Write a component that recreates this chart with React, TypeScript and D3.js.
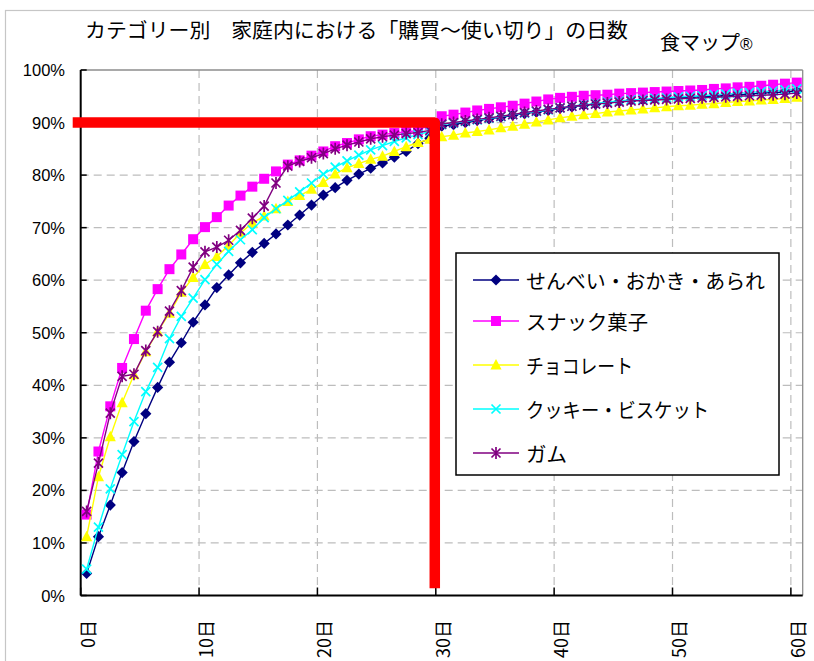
import React from "react";
import * as d3 from "d3";

// ---- data ----
const days: number[] = d3.range(0, 61);
const xTickDays = [0, 10, 20, 30, 40, 50, 60];
const xTickLabels = ["0日", "10日", "20日", "30日", "40日", "50日", "60日"];
const yTicks = [0, 10, 20, 30, 40, 50, 60, 70, 80, 90, 100];
const seriesNames = ["せんべい・おかき・あられ", "スナック菓子", "チョコレート", "クッキー・ビスケット", "ガム"];

const senbei = [
  4.2, 11.2, 17.2, 23.4, 29.3, 34.6, 39.6, 44.4, 48.1, 52.0,
  55.3, 58.6, 61.0, 63.3, 65.3, 67.0, 68.8, 70.5, 72.4, 74.3,
  76.2, 77.6, 79.0, 80.2, 81.3, 82.3, 83.4, 84.5, 86.0, 87.0,
  89.3, 89.6, 90.0, 90.4, 90.7, 91.0, 91.4, 91.7, 92.0, 92.3,
  92.7, 93.0, 93.3, 93.5, 93.8, 94.0, 94.2, 94.3, 94.5, 94.6,
  94.7, 94.8, 94.9, 95.0, 95.1, 95.3, 95.4, 95.6, 95.7, 95.8, 96.0,
];
const snack = [
  15.4, 27.4, 36.0, 43.3, 48.8, 54.2, 58.3, 62.1, 64.9, 67.8,
  70.1, 72.0, 74.2, 76.1, 77.8, 79.3, 80.7, 82.0, 82.8, 83.7,
  84.5, 85.5, 86.1, 86.8, 87.4, 87.7, 88.0, 88.2, 88.5, 89.6,
  91.2, 91.5, 91.9, 92.3, 92.6, 92.9, 93.2, 93.6, 94.0, 94.4,
  94.7, 94.9, 95.1, 95.2, 95.3, 95.5, 95.6, 95.7, 95.8, 95.9,
  96.0, 96.1, 96.2, 96.4, 96.5, 96.7, 96.8, 97.0, 97.2, 97.4, 97.6,
];
const choco = [
  11.2, 22.6, 30.2, 36.7, 42.0, 46.4, 50.2, 53.7, 57.7, 60.5,
  63.0, 64.5, 66.6, 69.0, 70.9, 72.2, 73.6, 75.0, 76.1, 77.3,
  78.6, 80.2, 81.4, 82.2, 83.0, 83.6, 84.5, 85.4, 86.2, 86.8,
  87.3, 87.6, 88.0, 88.3, 88.6, 89.0, 89.3, 89.7, 90.1, 90.5,
  90.9, 91.2, 91.5, 91.7, 92.0, 92.2, 92.4, 92.6, 92.8, 93.0,
  93.2, 93.3, 93.5, 93.6, 93.8, 94.0, 94.1, 94.3, 94.4, 94.6, 94.8,
];
const cookie = [
  5.0, 13.0, 20.3, 26.8, 33.1, 38.8, 43.4, 48.9, 53.1, 56.6,
  60.1, 63.0, 65.5, 67.7, 69.6, 71.9, 73.6, 75.2, 76.8, 78.5,
  80.2, 81.5, 82.7, 83.8, 84.8, 85.6, 86.4, 87.1, 87.7, 88.3,
  89.6, 89.9, 90.2, 90.5, 90.8, 91.1, 91.5, 91.8, 92.1, 92.4,
  92.8, 93.1, 93.4, 93.6, 93.9, 94.1, 94.3, 94.4, 94.6, 94.7,
  94.9, 95.0, 95.1, 95.3, 95.4, 95.6, 95.7, 95.9, 96.0, 96.2, 96.4,
];
const gum = [
  16.0, 25.2, 34.7, 41.7, 42.1, 46.6, 50.2, 54.1, 58.0, 62.5,
  65.4, 66.3, 67.6, 69.5, 71.8, 74.1, 78.5, 81.7, 82.6, 83.3,
  84.1, 85.0, 85.7, 86.3, 86.9, 87.3, 87.6, 87.9, 88.1, 88.5,
  89.7, 90.0, 90.3, 90.6, 90.9, 91.2, 91.5, 91.9, 92.2, 92.5,
  92.8, 93.1, 93.3, 93.5, 93.7, 93.9, 94.1, 94.2, 94.3, 94.4,
  94.5, 94.6, 94.7, 94.8, 94.9, 95.0, 95.1, 95.2, 95.3, 95.4, 95.6,
];
const refLevel = 90;
const refDay = 30;

const seriesValues = [senbei, snack, choco, cookie, gum];
const seriesColors = ["#000080", "#FF00FF", "#FFFF00", "#00FFFF", "#800080"];
const seriesMarkers = ["diamond", "square", "triangle", "x", "star"];
const legendWidths = [239, 122, 107, 183, 41];

// ---- layout ----
const W = 814;
const H = 661;
const plot = { left: 80.7, right: 802.7, top: 70, bottom: 595.5 };
const JP = "'Noto Sans CJK JP', 'Noto Sans', sans-serif";
const LAT = "'Liberation Sans', Arial, sans-serif";

function Marker({ kind, color, x, y }: { kind: string; color: string; x: number; y: number }) {
  const t = `translate(${x},${y})`;
  if (kind === "diamond") return <path transform={t} d="M0,-5.6L5.6,0L0,5.6L-5.6,0Z" fill={color} />;
  if (kind === "square") return <rect transform={t} x={-5} y={-5} width={10} height={10} fill={color} />;
  if (kind === "triangle") return <path transform={t} d="M0,-6L5.6,4.5L-5.6,4.5Z" fill={color} />;
  if (kind === "x")
    return <path transform={t} d="M-4.5,-4.5L4.5,4.5M-4.5,4.5L4.5,-4.5" stroke={color} strokeWidth={1.7} fill="none" />;
  return (
    <path transform={t} d="M-4.5,-4.5L4.5,4.5M-4.5,4.5L4.5,-4.5M0,-6L0,6" stroke={color} strokeWidth={1.7} fill="none" />
  );
}

export default function App() {
  const x = d3.scaleBand<number>().domain(days).range([plot.left, plot.right]).padding(0);
  const bw = x.bandwidth();
  const cx = (d: number) => (x(d) as number) + bw / 2;
  const y = d3.scaleLinear().domain([0, 100]).range([plot.bottom, plot.top]);
  const line = d3
    .line<number>()
    .x((_, i) => cx(days[i]))
    .y((v) => y(v));

  const tickX = (d: number) => x(d) as number;

  const refX = x(refDay) as number;
  const refY = y(refLevel);

  const legend = { x: 456, y: 253, w: 323, h: 222 };
  const legendRows = [280, 321, 365, 409, 453];

  return (
    <svg width={W} height={H} style={{ position: "absolute", left: 0, top: 0, background: "#fff" }}>
      <rect x={0} y={0} width={W} height={H} fill="#fff" />
      <rect x={5.5} y={10.5} width={900} height={800} fill="none" stroke="#c6c6c6" strokeWidth={1.2} />

      {/* title */}
      <text x={85} y={38} fontFamily={JP} fontSize={20} fill="#000" textLength={543} lengthAdjust="spacingAndGlyphs">
        カテゴリー別　家庭内における「購買～使い切り」の日数
      </text>
      <text x={660} y={50} fontFamily={JP} fontSize={20} fill="#000">
        食マップ
        <tspan fontFamily={LAT} fontSize={17}>®</tspan>
      </text>

      {/* horizontal grid */}
      {yTicks
        .filter((t) => t > 0 && t < 100)
        .map((t) => (
          <line key={"hg" + t} x1={plot.left} x2={plot.right} y1={y(t)} y2={y(t)} stroke="#bdbdbd" strokeWidth={1.2} strokeDasharray="8,5" />
        ))}
      {/* vertical grid */}
      {xTickDays
        .filter((d) => d > 0)
        .map((d) => (
          <line key={"vg" + d} x1={tickX(d)} x2={tickX(d)} y1={plot.top} y2={plot.bottom} stroke="#bdbdbd" strokeWidth={1.2} strokeDasharray="8,5" />
        ))}

      {/* plot border */}
      <line x1={plot.left} x2={plot.right} y1={plot.top} y2={plot.top} stroke="#8c8c8c" strokeWidth={1.3} />
      <line x1={plot.right} x2={plot.right} y1={plot.top} y2={plot.bottom} stroke="#8c8c8c" strokeWidth={1.3} />
      <line x1={plot.left} x2={plot.left} y1={plot.top} y2={plot.bottom} stroke="#000" strokeWidth={2} />
      <line x1={plot.left} x2={plot.right} y1={plot.bottom} y2={plot.bottom} stroke="#000" strokeWidth={2} />

      {/* y ticks & labels */}
      {yTicks.map((t) => (
        <g key={"yt" + t}>
          <line x1={plot.left} x2={plot.left + 6} y1={y(t)} y2={y(t)} stroke="#000" strokeWidth={1.5} />
          <text x={65} y={y(t)} textAnchor="end" dominantBaseline="central" fontFamily={LAT} fontSize={16.5} fill="#000">
            {t}%
          </text>
        </g>
      ))}

      {/* x ticks & labels */}
      {xTickDays.map((d, i) => (
        <g key={"xt" + d}>
          <line x1={tickX(d)} x2={tickX(d)} y1={plot.bottom} y2={plot.bottom - 8} stroke="#000" strokeWidth={1.5} />
          <text
            transform={`translate(${cx(d)},620) rotate(-90)`}
            textAnchor="end"
            dominantBaseline="central"
            fontFamily={JP}
            fontSize={18}
            fill="#000"
          >
            {xTickLabels[i]}
          </text>
        </g>
      ))}

      {/* series */}
      {seriesValues.map((vals, si) => (
        <g key={"s" + si}>
          <path d={line(vals) || ""} fill="none" stroke={seriesColors[si]} strokeWidth={1.4} />
          {vals.map((v, i) => (
            <Marker key={i} kind={seriesMarkers[si]} color={seriesColors[si]} x={cx(days[i])} y={y(v)} />
          ))}
        </g>
      ))}

      {/* red reference lines */}
      <path
        d={`M${plot.left - 8},${refY} H${refX - 1} V${y(1.4)}`}
        fill="none"
        stroke="#FF0000"
        strokeWidth={10.5}
        strokeLinejoin="round"
      />

      {/* legend */}
      <rect x={legend.x} y={legend.y} width={legend.w} height={legend.h} fill="#fff" stroke="#000" strokeWidth={1.5} />
      {seriesNames.map((name, i) => (
        <g key={"lg" + i}>
          <line x1={473} x2={519} y1={legendRows[i]} y2={legendRows[i]} stroke={seriesColors[i]} strokeWidth={1.4} />
          <Marker kind={seriesMarkers[i]} color={seriesColors[i]} x={496} y={legendRows[i]} />
          <text
            x={526}
            y={legendRows[i]}
            dominantBaseline="central"
            fontFamily={JP}
            fontSize={20}
            fill="#000"
            textLength={legendWidths[i]}
            lengthAdjust="spacingAndGlyphs"
          >
            {name}
          </text>
        </g>
      ))}
    </svg>
  );
}
